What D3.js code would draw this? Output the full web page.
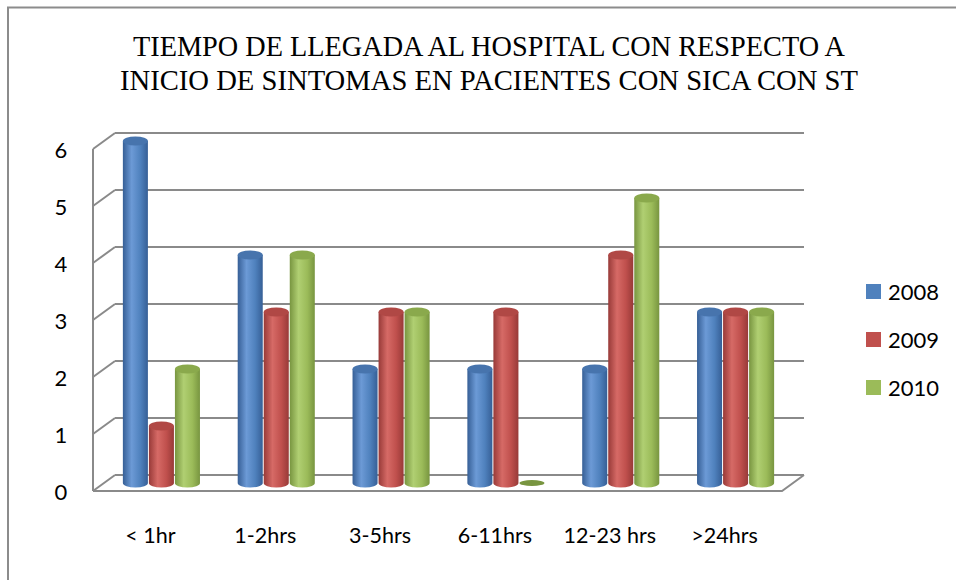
<!DOCTYPE html>
<html>
<head>
<meta charset="utf-8">
<script src="https://cdn.jsdelivr.net/npm/d3@7"></script>
<style>
  body { margin: 0; background: #fff; }
  svg { display: block; }
</style>
</head>
<body>
<svg id="chart" width="956" height="580"></svg>
<script>
// data
const categories = ["< 1hr", "1-2hrs", "3-5hrs", "6-11hrs", "12-23 hrs", ">24hrs"];
const seriesNames = ["2008", "2009", "2010"];
const values2008 = [6, 4, 2, 2, 2, 3];
const values2009 = [1, 3, 3, 3, 4, 3];
const values2010 = [2, 4, 3, 0, 5, 3];
const yTicks = [0, 1, 2, 3, 4, 5, 6];
const titleLines = [
  "TIEMPO DE LLEGADA AL HOSPITAL CON RESPECTO A",
  "INICIO DE SINTOMAS EN PACIENTES CON SICA CON ST"
];

const seriesValues = [values2008, values2009, values2010];
const colors = {
  "2008": { base: "#4F81BD", dark: "#365f96", light: "#6c9ad6", top: "#4774ad" },
  "2009": { base: "#C0504D", dark: "#983a38", light: "#d66a66", top: "#b04845" },
  "2010": { base: "#9BBB59", dark: "#789540", light: "#b0cf72", top: "#8aa94c" }
};

const svg = d3.select("#chart");
const gridColor = "#8a8a8a";
const labelFont = "Lato, 'Open Sans', sans-serif";

// outer chart border (only left/top show)
svg.append("path")
  .attr("d", "M8,580 L8,7.5 L956,7.5")
  .attr("fill", "none")
  .attr("stroke", "#8c8c8c")
  .attr("stroke-width", 2);

// title
svg.selectAll("text.title")
  .data(titleLines)
  .enter()
  .append("text")
  .attr("class", "title")
  .attr("x", 489)
  .attr("y", (d, i) => 56 + i * 34)
  .attr("text-anchor", "middle")
  .attr("textLength", (d, i) => (i == 0 ? 712 : 738))
  .attr("lengthAdjust", "spacingAndGlyphs")
  .style("font-family", "'Liberation Serif', 'DejaVu Serif', serif")
  .style("font-size", "29px")
  .style("fill", "#000")
  .text((d) => d);

// 3D geometry: front plane + depth offset
const depth = { dx: 22, dy: -16 };
const front = { left: 93, right: 782, bottom: 491, top: 149 };

const x0 = d3.scaleBand().domain(categories).range([front.left, front.right]);
const x1 = d3.scaleBand()
  .domain(seriesNames)
  .range([x0.bandwidth() * 0.16, x0.bandwidth() * 0.84]);
const y = d3.scaleLinear().domain([0, 6]).range([front.bottom, front.top]);

// walls and grid
const grid = svg.append("g");
yTicks.forEach((t) => {
  const yf = y(t);
  grid.append("line")
    .attr("x1", front.left + depth.dx).attr("y1", yf + depth.dy)
    .attr("x2", front.right + depth.dx).attr("y2", yf + depth.dy)
    .attr("stroke", gridColor).attr("stroke-width", 2);
  grid.append("line")
    .attr("x1", front.left).attr("y1", yf)
    .attr("x2", front.left + depth.dx).attr("y2", yf + depth.dy)
    .attr("stroke", gridColor).attr("stroke-width", 2);
});
grid.append("line")
  .attr("x1", front.left).attr("y1", y(0))
  .attr("x2", front.left).attr("y2", y(6))
  .attr("stroke", gridColor).attr("stroke-width", 2);
// floor front edge and right edge
grid.append("path")
  .attr("d", `M${front.left},${y(0)} L${front.right},${y(0)} L${front.right + depth.dx},${y(0) + depth.dy}`)
  .attr("fill", "none")
  .attr("stroke", gridColor).attr("stroke-width", 2);

// y tick labels
svg.selectAll("text.ytick")
  .data(yTicks)
  .enter()
  .append("text")
  .attr("class", "ytick")
  .attr("x", 61)
  .attr("y", (d) => y(d) + 9)
  .attr("text-anchor", "middle")
  .style("font-family", labelFont)
  .style("font-size", "22px")
  .text((d) => d);

// x labels
svg.selectAll("text.xlab")
  .data(categories)
  .enter()
  .append("text")
  .attr("class", "xlab")
  .attr("x", (d) => x0(d) + x0.bandwidth() / 2)
  .attr("y", 543)
  .attr("text-anchor", "middle")
  .style("font-family", labelFont)
  .style("font-size", "21.5px")
  .text((d) => d);

// gradients for cylinders
const defs = svg.append("defs");
seriesNames.forEach((s) => {
  const c = colors[s];
  const g = defs.append("linearGradient")
    .attr("id", "grad" + s)
    .attr("x1", "0%").attr("x2", "100%").attr("y1", "0%").attr("y2", "0%");
  g.append("stop").attr("offset", "0%").attr("stop-color", c.dark);
  g.append("stop").attr("offset", "35%").attr("stop-color", c.light);
  g.append("stop").attr("offset", "70%").attr("stop-color", c.base);
  g.append("stop").attr("offset", "100%").attr("stop-color", c.dark);
});

// bars as cylinders at mid-depth
const mid = { dx: depth.dx / 2, dy: depth.dy / 2 };
const rx = x1.bandwidth() / 2 - 0.5;
const ry = 4.5;
const barData = [];
categories.forEach((cat, i) => {
  seriesNames.forEach((s, j) => {
    barData.push({ cat: cat, series: s, value: seriesValues[j][i] });
  });
});

const bars = svg.append("g")
  .selectAll("g.bar")
  .data(barData)
  .enter()
  .append("g")
  .attr("class", "bar");

bars.each(function (d) {
  const g = d3.select(this);
  const cx = x0(d.cat) + x1(d.series) + x1.bandwidth() / 2 + mid.dx;
  const yb = y(0) + mid.dy;
  const yt = y(d.value) + mid.dy;
  const c = colors[d.series];
  if (d.value == 0) {
    g.append("ellipse")
      .attr("cx", cx).attr("cy", yb)
      .attr("rx", rx).attr("ry", ry - 1.5)
      .attr("fill", c.dark);
    return;
  }
  g.append("path")
    .attr("d", `M${cx - rx},${yt} L${cx - rx},${yb} A${rx},${ry} 0 0 0 ${cx + rx},${yb} L${cx + rx},${yt} Z`)
    .attr("fill", `url(#grad${d.series})`);
  g.append("ellipse")
    .attr("cx", cx).attr("cy", yt)
    .attr("rx", rx).attr("ry", ry)
    .attr("fill", c.top);
});

// legend
const legend = svg.append("g")
  .selectAll("g.leg")
  .data(seriesNames)
  .enter()
  .append("g")
  .attr("class", "leg")
  .attr("transform", (d, i) => `translate(866,${284 + i * 48})`);
legend.append("rect")
  .attr("width", 15).attr("height", 15)
  .attr("fill", (d) => colors[d].base);
legend.append("text")
  .attr("x", 22).attr("y", 16)
  .style("font-family", labelFont)
  .style("font-size", "22px")
  .text((d) => d);
</script>
</body>
</html>
